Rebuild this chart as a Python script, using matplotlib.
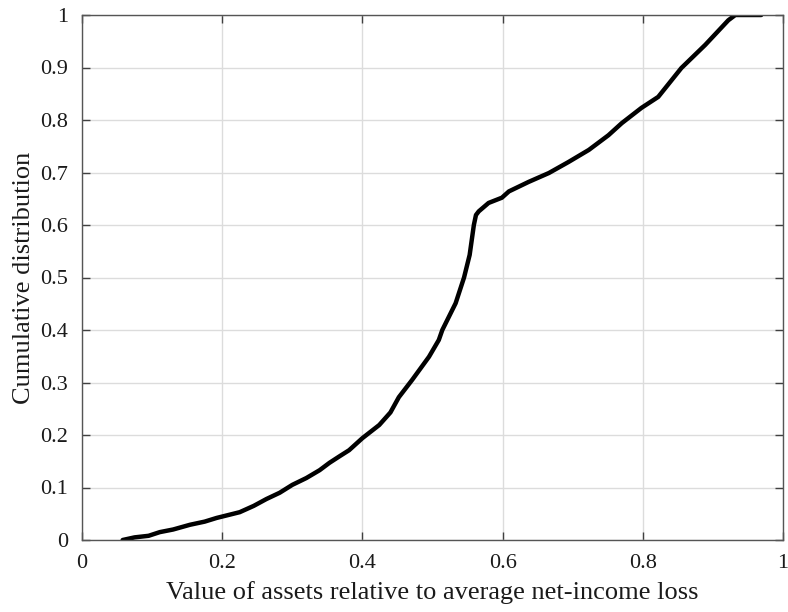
import numpy as np
import matplotlib.pyplot as plt

# curve points (value of assets, cumulative share)
asset_ratio = [0.058, 0.075, 0.095, 0.111, 0.130, 0.154, 0.175, 0.192, 0.210, 0.225,
               0.245, 0.263, 0.282, 0.300, 0.320, 0.339, 0.353, 0.368, 0.381, 0.400,
               0.424, 0.440, 0.452, 0.471, 0.495, 0.509, 0.514, 0.533, 0.545, 0.553,
               0.559, 0.562, 0.566, 0.580, 0.599, 0.609, 0.637, 0.666, 0.694, 0.723,
               0.751, 0.770, 0.798, 0.822, 0.855, 0.889, 0.922, 0.932, 0.969]
cum_dist = [0.000, 0.005, 0.008, 0.015, 0.020, 0.029, 0.035, 0.042, 0.048, 0.053,
            0.065, 0.078, 0.090, 0.105, 0.118, 0.133, 0.147, 0.160, 0.171, 0.194,
            0.219, 0.243, 0.272, 0.305, 0.349, 0.381, 0.400, 0.451, 0.500, 0.543,
            0.600, 0.619, 0.626, 0.642, 0.652, 0.664, 0.682, 0.699, 0.720, 0.743,
            0.771, 0.794, 0.823, 0.844, 0.899, 0.943, 0.990, 1.000, 1.000]

x_ticks = [0, 0.2, 0.4, 0.6, 0.8, 1]
y_ticks = [0, 0.1, 0.2, 0.3, 0.4, 0.5, 0.6, 0.7, 0.8, 0.9, 1]
tick_labels_x = ["0", "0.2", "0.4", "0.6", "0.8", "1"]
tick_labels_y = ["0", "0.1", "0.2", "0.3", "0.4", "0.5", "0.6", "0.7", "0.8", "0.9", "1"]

plt.rcParams['font.family'] = ['Liberation Serif', 'DejaVu Serif']

fig = plt.figure(figsize=(7.88, 6.12), dpi=100)
ax = fig.add_axes([82 / 788, 72 / 612, 701 / 788, 525 / 612])

ax.plot(asset_ratio, cum_dist, color='black', linewidth=3.2, solid_capstyle='round')

ax.set_xlim(0, 1)
ax.set_ylim(0, 1)
ax.set_xticks(x_ticks)
ax.set_xticklabels(tick_labels_x)
ax.set_yticks(y_ticks)
ax.set_yticklabels(tick_labels_y)
ax.grid(True, color='#dcdcdc', linewidth=1.0)
ax.set_axisbelow(True)

ax.tick_params(direction='in', length=6, width=1, color='#404040',
               top=True, right=True, labelsize=16, labelcolor='#1a1a1a', pad=10)
for sp in ax.spines.values():
    sp.set_color('#555555')
    sp.set_linewidth(1.0)

ax.set_xlabel("Value of assets relative to average net-income loss", fontsize=19,
              color='#1a1a1a', labelpad=6)
ax.set_ylabel("Cumulative distribution", fontsize=19, color='#1a1a1a', labelpad=4)

fig.savefig("out.png", dpi=100)
